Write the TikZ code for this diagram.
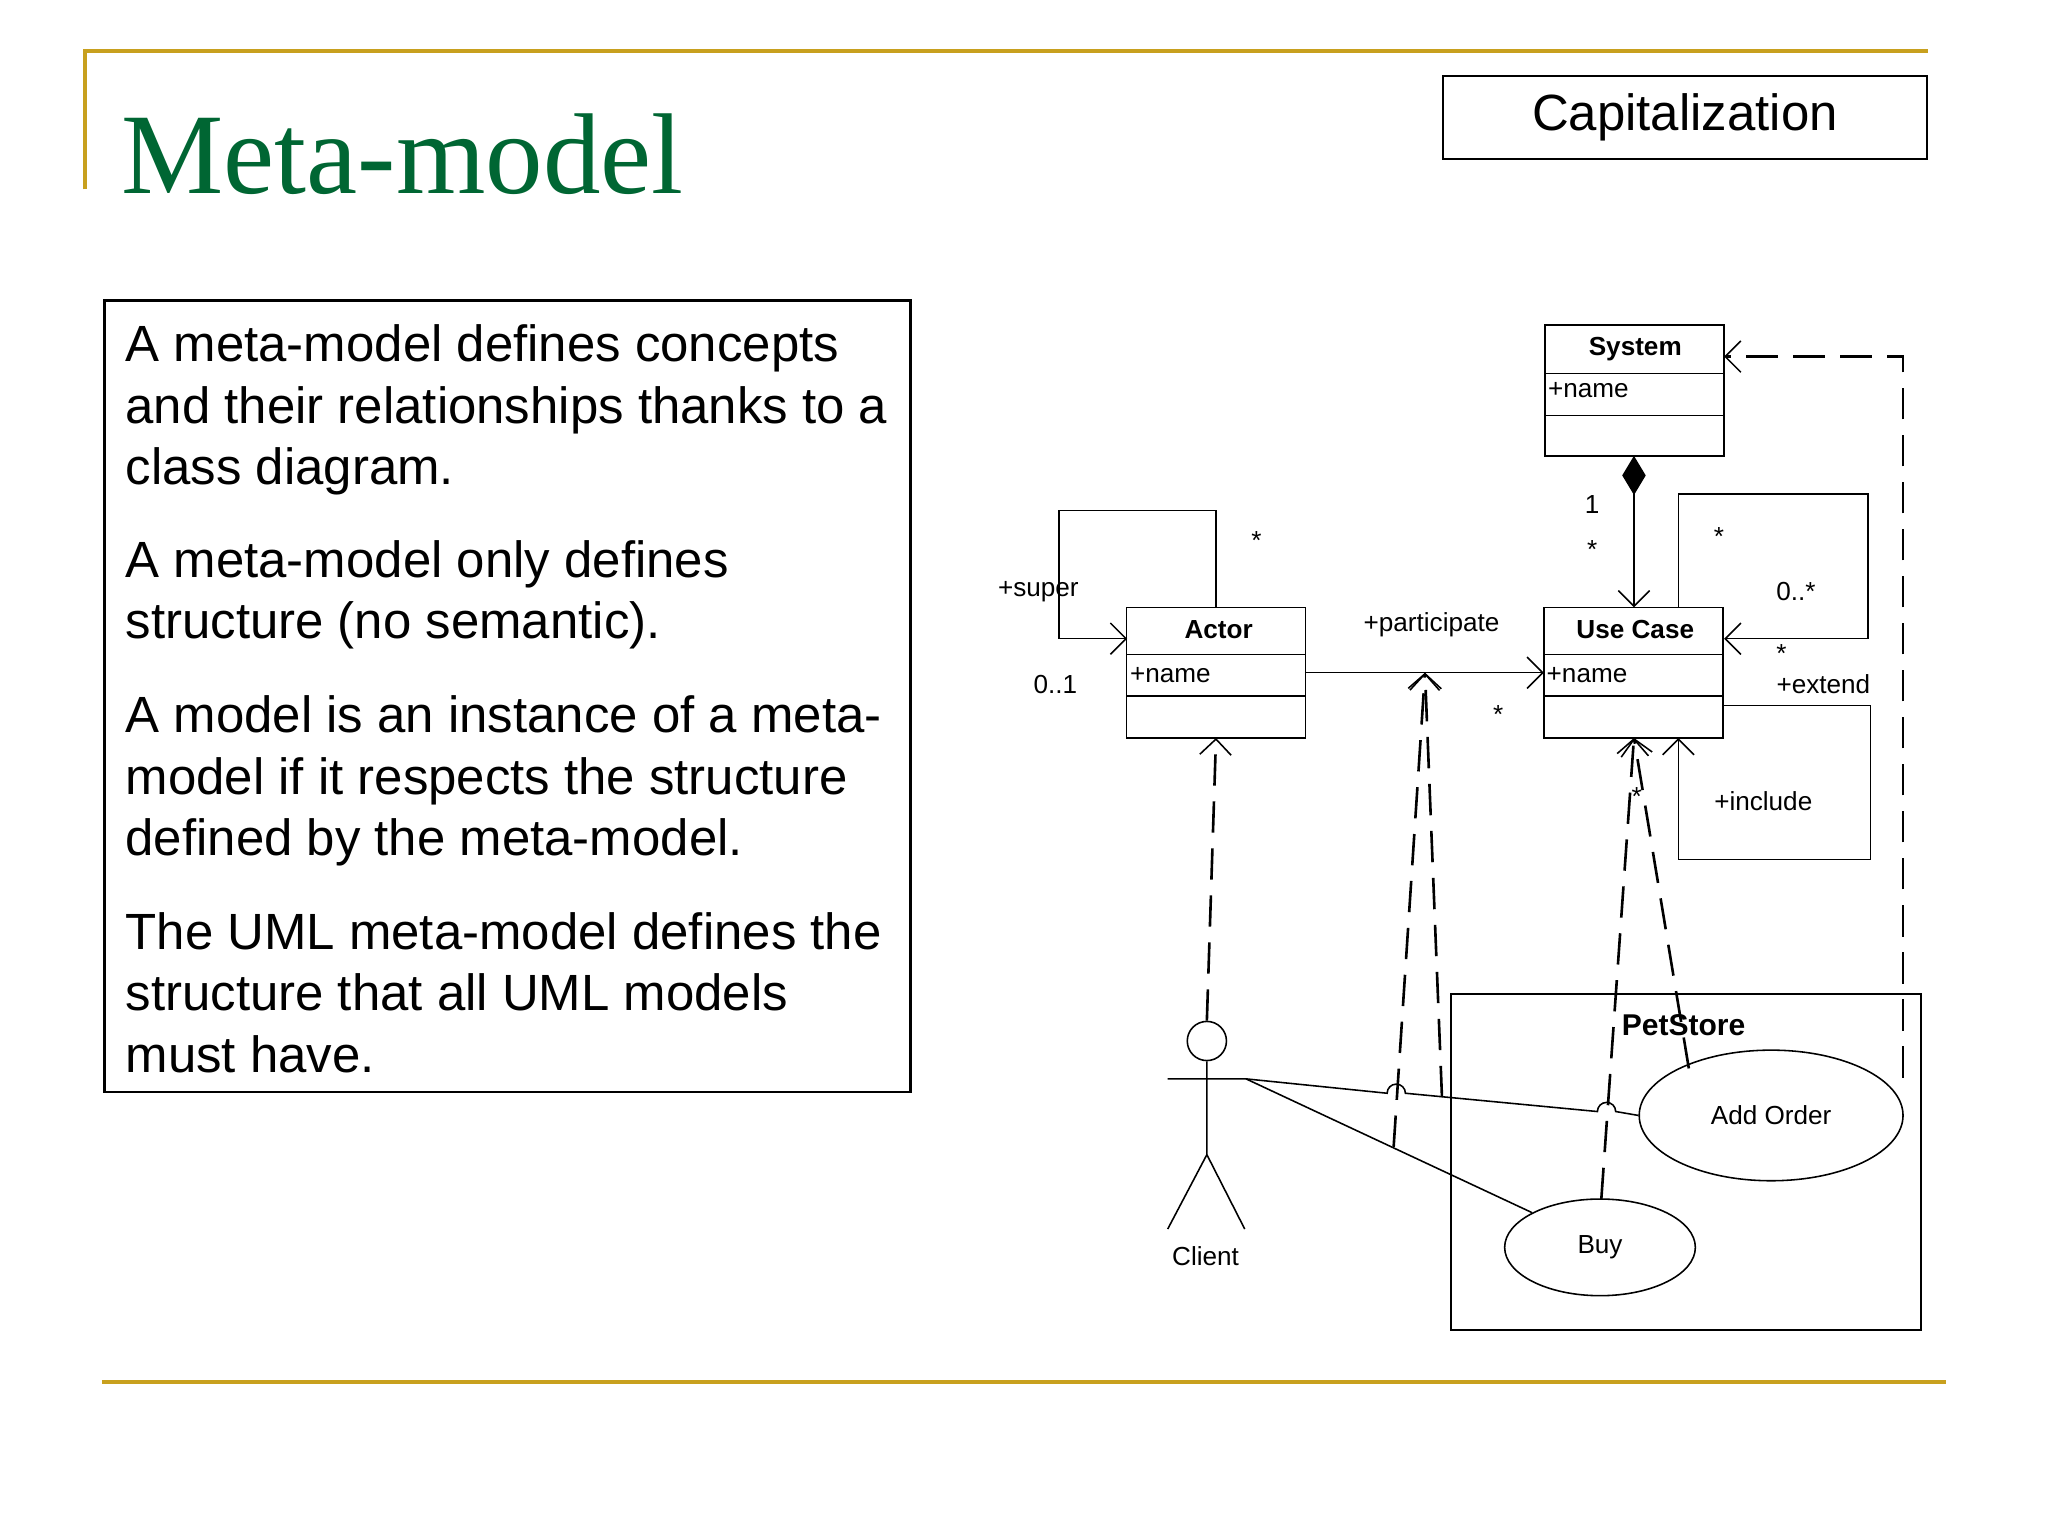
\documentclass[tikz,border=0pt]{standalone}
\usepackage{fontspec}
\setmainfont{Liberation Sans}
\newfontfamily\titlefont{Liberation Serif}
\usetikzlibrary{arrows.meta,shapes.geometric}
\definecolor{gold}{RGB}{200,160,30}
\definecolor{tgreen}{RGB}{0,102,51}
\begin{document}
\begin{tikzpicture}[x=1pt,y=-1pt,
  body/.style={anchor=base west,inner sep=0,font=\fontsize{39}{42}\selectfont},
  lbl/.style={inner sep=0,font=\fontsize{20}{22}\selectfont},
  cls/.style={draw,line width=1.3pt,minimum width=137pt,minimum height=100pt,inner sep=0},
  ln/.style={line width=1.2pt},
  dsh/.style={line width=2pt,dash pattern=on 24pt off 12pt},
  open/.style={-{Straight Barb[length=12pt,width=24pt,line width=1.2pt]}},
  uc/.style={draw,ellipse,line width=1.2pt,inner sep=0}]
\useasboundingbox (0,0) rectangle (1568,1176);
\fill[white] (0,0) rectangle (1568,1176);
% frame lines
\draw[gold,line width=3pt] (65,145) -- (65,39) -- (1476,39);
\draw[gold,line width=3pt] (78,1058) -- (1490,1058);
\node[anchor=base west,inner sep=0,text=tgreen,font=\titlefont\fontsize{88}{90}\selectfont] (title) at (93,148) {Meta-model};
\node[draw,line width=1.5pt,minimum width=370pt,minimum height=63pt,inner sep=0,font=\fontsize{39}{42}\selectfont] (cap) at (1290,90) {Capitalization};
% text box
\node[draw,line width=2pt,minimum width=617pt,minimum height=606pt,inner sep=0] (tb) at (388.5,533) {};
\node[body] (t1) at (96,277) {A meta-model defines concepts};
\node[body] (t2) at (96,324) {and their relationships thanks to a};
\node[body] (t3) at (96,371) {class diagram.};
\node[body] (t4) at (96,442) {A meta-model only defines};
\node[body] (t5) at (96,489) {structure (no semantic).};
\node[body] (t6) at (96,561) {A model is an instance of a meta-};
\node[body] (t7) at (96,608) {model if it respects the structure};
\node[body] (t8) at (96,655) {defined by the meta-model.};
\node[body] (t9) at (96,727) {The UML meta-model defines the};
\node[body] (t10) at (96,774) {structure that all UML models};
\node[body] (t11) at (96,821) {must have.};
% classes
\node[cls] (sys) at (1251.5,299) {};
\node[cls] (act) at (931,515) {};
\node[cls] (ucl) at (1250.5,515) {};
\draw[ln] (1183,286) -- (1320,286) (1183,318) -- (1320,318);
\draw[ln] (863,501) -- (999,501) (863,533) -- (999,533);
\draw[ln] (1182,501) -- (1319,501) (1182,533) -- (1319,533);
\node[lbl,font=\bfseries\fontsize{20}{22}\selectfont] (sysn) at (1252,267) {System};
\node[lbl,anchor=west] (sysa) at (1185,299) {+name};
\node[lbl,font=\bfseries\fontsize{20}{22}\selectfont] (actn) at (933,482) {Actor};
\node[lbl,anchor=west] (acta) at (865,517) {+name};
\node[lbl,font=\bfseries\fontsize{20}{22}\selectfont] (ucn) at (1252,482) {Use Case};
\node[lbl,anchor=west] (uca) at (1184,517) {+name};
% composition
\coordinate (sysb) at (1251,349);
\coordinate (uct) at (1251,465);
\draw[ln,{Diamond[length=30pt,width=18pt]}-{Straight Barb[length=12pt,width=24pt,line width=1.2pt]}] (sysb) -- (uct);
\node[lbl] at (1219,386) {1};
\node[lbl] at (1219,421) {*};
% actor super loop
\coordinate (a1) at (931,465);
\coordinate (a2) at (863,489);
\draw[ln,open] (a1) -- (931,391) -- (811,391) -- (811,489) -- (a2);
\node[lbl] at (962,414) {*};
\node[lbl] at (795,453) {+super};
\node[lbl] at (808,524) {0..1};
% participate
\coordinate (p1) at (999,515);
\coordinate (p2) at (1182,515);
\coordinate (pm) at (1091,515);
\draw[ln,open] (p1) -- (p2);
\node[lbl] at (1096,478) {+participate};
\node[lbl] at (1147,547) {*};
% extend
\coordinate (e1) at (1285,465);
\coordinate (e2) at (1320,489);
\draw[ln,open] (e1) -- (1285,378) -- (1430,378) -- (1430,489) -- (e2);
\node[lbl] at (1316,411) {*};
\node[lbl] at (1375,453) {0..*};
\node[lbl] at (1364,500) {*};
\node[lbl] at (1396,524) {+extend};
% include
\coordinate (i1) at (1320,540);
\coordinate (i2) at (1285,565);
\draw[ln,open] (i1) -- (1432,540) -- (1432,658) -- (1285,658) -- (i2);
\node[lbl] at (1350,613) {+include};
% PetStore
\node[draw,line width=1.5pt,minimum width=360pt,minimum height=257pt,inner sep=0] (ps) at (1291,889.5) {};
\node[lbl,font=\bfseries\fontsize{23}{24}\selectfont] (psn) at (1289,785) {PetStore};
\node[uc,minimum width=202pt,minimum height=100pt,font=\fontsize{20}{22}\selectfont] (add) at (1356,854) {Add Order};
\node[uc,minimum width=146pt,minimum height=74pt,font=\fontsize{20}{22}\selectfont] (buy) at (1225,955) {Buy};
% client
\node[draw,circle,line width=1.2pt,minimum size=30pt,inner sep=0] (head) at (924,797) {};
\coordinate (hand) at (954,826);
\draw[ln] (head.south) -- (924,884) -- (894,941) (924,884) -- (953,941) (894,826) -- (hand);
\node[lbl] (cl) at (923,962) {Client};
% associations
\draw[ln] (hand) -- (1062,837) arc (180:0:7pt) -- (1223,851) arc (180:0:7pt) -- (add.west);
\draw[ln] (hand) -- (buy.north west);
% dashed instance-of links
\coordinate (s1) at (1320,273);
\draw[dsh,open] (1457,825) -- (1457,273) -- (s1);
\coordinate (acb) at (931,565);
\draw[dsh,open] (head.north) -- (acb);
\draw[dsh,open] (1067,878) -- (pm);
\draw[dsh,open] (1104,840) -- (pm);
\coordinate (ucb) at (1251,565);
\draw[dsh,open] (1226,918) -- (ucb);
\draw[dsh,open] (1293,818) -- (ucb);
\node[lbl] at (1253,610) {*};
\end{tikzpicture}
\end{document}
